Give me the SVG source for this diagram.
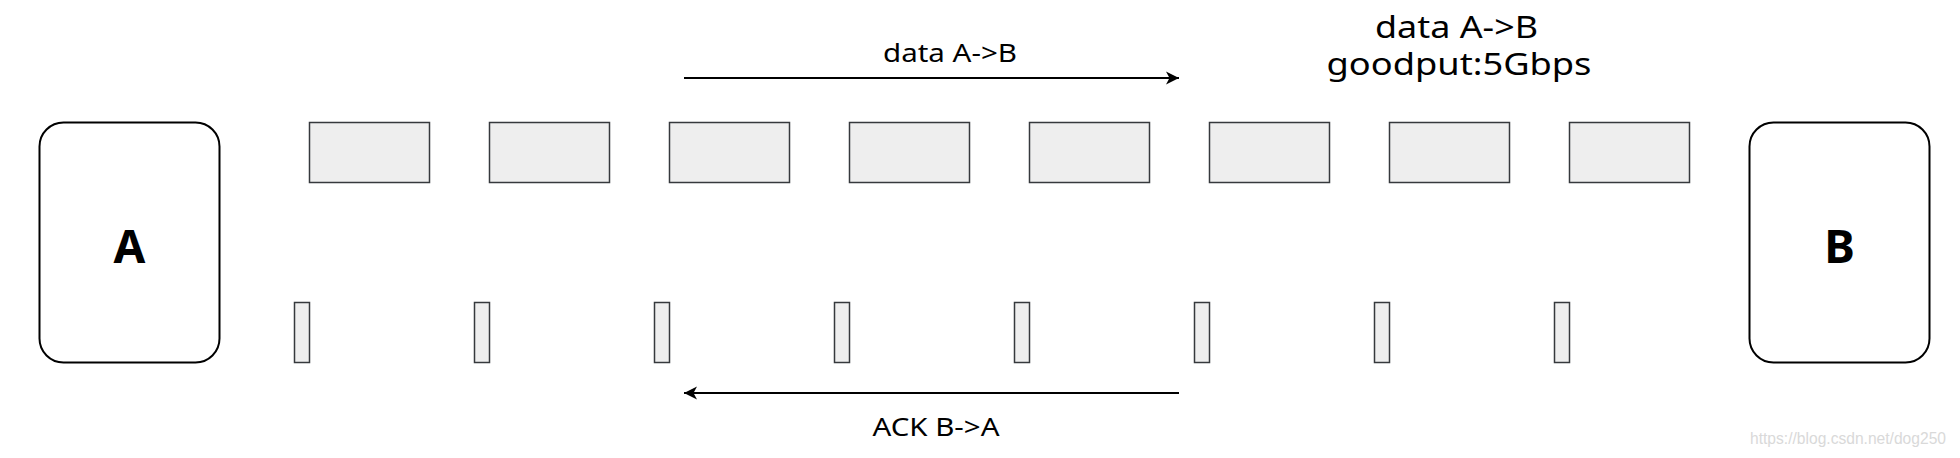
<svg xmlns="http://www.w3.org/2000/svg" width="1960" height="458" viewBox="0 0 1960 458">
<style>
.host{fill:#ffffff;stroke:#000000;stroke-width:2}
.pkt{fill:#eeeeee;stroke:#36393d;stroke-width:1.5}
.lbl{font-family:"Comic Sans MS","Noto Sans",sans-serif;fill:#000000;text-anchor:middle}
.big{font-size:46px;font-weight:bold}
.edge{fill:none;stroke:#000000;stroke-width:2}
.wm{font-family:"Liberation Sans",Arial,sans-serif;font-size:17px;fill:#d9d9d9}
</style>
<defs>
<marker id="arr" viewBox="0 0 14 14" refX="13" refY="7" markerWidth="14" markerHeight="14" markerUnits="userSpaceOnUse" orient="auto">
<path d="M0,0.5 L13,7 L0,13.5 L3.5,7 Z" fill="#000000"/>
</marker>
</defs>
<rect width="1960" height="458" fill="#ffffff"/>
<g id="nodeA">
<rect class="host" x="39.5" y="122.5" width="180" height="240" rx="24" ry="24"/>
<text class="lbl big" x="129.5" y="262.5">A</text>
</g>
<g id="nodeB">
<rect class="host" x="1749.5" y="122.5" width="180" height="240" rx="24" ry="24"/>
<text class="lbl big" x="1839.5" y="262.5">B</text>
</g>
<g id="data-packets">
<rect id="d1" class="pkt" x="309.5" y="122.5" width="120" height="60"/>
<rect id="d2" class="pkt" x="489.5" y="122.5" width="120" height="60"/>
<rect id="d3" class="pkt" x="669.5" y="122.5" width="120" height="60"/>
<rect id="d4" class="pkt" x="849.5" y="122.5" width="120" height="60"/>
<rect id="d5" class="pkt" x="1029.5" y="122.5" width="120" height="60"/>
<rect id="d6" class="pkt" x="1209.5" y="122.5" width="120" height="60"/>
<rect id="d7" class="pkt" x="1389.5" y="122.5" width="120" height="60"/>
<rect id="d8" class="pkt" x="1569.5" y="122.5" width="120" height="60"/>
</g>
<g id="ack-packets">
<rect id="a1" class="pkt" x="294.5" y="302.5" width="15" height="60"/>
<rect id="a2" class="pkt" x="474.5" y="302.5" width="15" height="60"/>
<rect id="a3" class="pkt" x="654.5" y="302.5" width="15" height="60"/>
<rect id="a4" class="pkt" x="834.5" y="302.5" width="15" height="60"/>
<rect id="a5" class="pkt" x="1014.5" y="302.5" width="15" height="60"/>
<rect id="a6" class="pkt" x="1194.5" y="302.5" width="15" height="60"/>
<rect id="a7" class="pkt" x="1374.5" y="302.5" width="15" height="60"/>
<rect id="a8" class="pkt" x="1554.5" y="302.5" width="15" height="60"/>
</g>
<g id="connectors">
<line class="edge" x1="684" y1="78" x2="1179" y2="78" marker-end="url(#arr)"/>
<line class="edge" x1="1179" y1="393" x2="684" y2="393" marker-end="url(#arr)"/>
</g>
<g id="labels">
<text class="lbl" x="950" y="61.5" font-size="26" textLength="134" lengthAdjust="spacingAndGlyphs">data A-&gt;B</text>
<text class="lbl" x="936" y="436" font-size="26" textLength="127" lengthAdjust="spacingAndGlyphs">ACK B-&gt;A</text>
<text class="lbl" x="1456.5" y="37.5" font-size="30" textLength="163" lengthAdjust="spacingAndGlyphs">data A-&gt;B</text>
<text class="lbl" x="1459" y="75" font-size="30" textLength="265" lengthAdjust="spacingAndGlyphs">goodput:5Gbps</text>
</g>
<text class="wm" x="1750" y="444" textLength="196" lengthAdjust="spacingAndGlyphs">https://blog.csdn.net/dog250</text>
</svg>
